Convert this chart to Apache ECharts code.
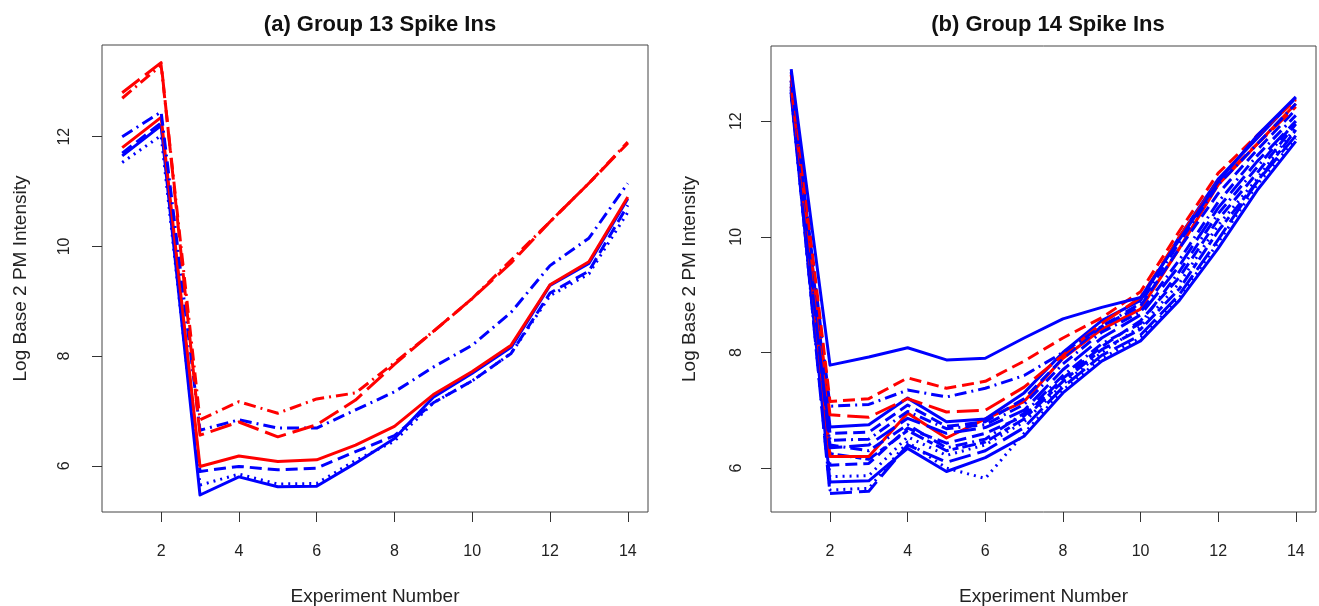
<!DOCTYPE html>
<html>
<head>
<meta charset="utf-8">
<script src="https://cdn.jsdelivr.net/npm/echarts@6/dist/echarts.min.js"></script>
<style>
html,body{margin:0;padding:0;background:#fff;}
#chart{width:1319px;height:606px;}
</style>
</head>
<body>
<div id="chart"></div>
<script>
// ---- data ----
var experiments = [1,2,3,4,5,6,7,8,9,10,11,12,13,14];
var xTicks = [2,4,6,8,10,12,14];
var yTicks = [6,8,10,12];
var titleA = "(a) Group 13 Spike Ins";
var titleB = "(b) Group 14 Spike Ins";
var xTitle = "Experiment Number";
var yTitle = "Log Base 2 PM Intensity";

// Group 13 (left panel)
var g13RedDashDot  = [12.70, 13.30, 6.84, 7.17, 6.96, 7.22, 7.33, 7.88, 8.45, 9.05, 9.75, 10.45, 11.15, 11.90];
var g13RedDash     = [12.80, 13.35, 6.56, 6.80, 6.53, 6.75, 7.20, 7.85, 8.45, 9.05, 9.70, 10.45, 11.15, 11.88];
var g13BlueDashDot = [12.00, 12.45, 6.65, 6.84, 6.69, 6.69, 7.02, 7.35, 7.80, 8.20, 8.80, 9.65, 10.15, 11.15];
var g13RedSolid    = [11.80, 12.35, 5.99, 6.18, 6.08, 6.11, 6.38, 6.72, 7.30, 7.72, 8.20, 9.30, 9.72, 10.90];
var g13BlueDash    = [11.70, 12.25, 5.90, 5.99, 5.93, 5.96, 6.26, 6.55, 7.15, 7.55, 8.05, 9.15, 9.55, 10.75];
var g13BlueDot     = [11.53, 12.02, 5.65, 5.85, 5.67, 5.68, 6.10, 6.45, 7.15, 7.55, 8.05, 9.10, 9.50, 10.62];
var g13BlueSolid   = [11.65, 12.20, 5.47, 5.80, 5.62, 5.63, 6.05, 6.50, 7.25, 7.69, 8.16, 9.29, 9.69, 10.87];

// Group 14 (right panel)
var g14BlueSolidTop  = [12.90, 7.78, 7.92, 8.08, 7.87, 7.90, 8.25, 8.58, 8.78, 8.95, 9.95, 10.95, 11.75, 12.42];
var g14RedDash       = [12.80, 7.15, 7.20, 7.56, 7.38, 7.50, 7.85, 8.25, 8.60, 9.05, 10.10, 11.10, 11.75, 12.37];
var g14BlueDashDotA  = [12.70, 7.07, 7.10, 7.35, 7.23, 7.38, 7.60, 8.00, 8.45, 8.85, 9.90, 10.90, 11.60, 12.30];
var g14RedLongDash   = [12.60, 6.92, 6.88, 7.20, 6.97, 7.00, 7.40, 7.95, 8.50, 8.95, 10.00, 10.95, 11.60, 12.25];
var g14BlueSolidB    = [12.85, 6.71, 6.75, 7.21, 6.80, 6.85, 7.30, 8.00, 8.55, 8.90, 10.00, 11.00, 11.70, 12.40];
var g14BlueDashB     = [12.70, 6.60, 6.62, 7.09, 6.72, 6.80, 7.20, 7.90, 8.45, 8.80, 9.80, 10.75, 11.50, 12.20];
var g14BlueDashDotC  = [12.60, 6.48, 6.50, 6.98, 6.68, 6.75, 7.10, 7.80, 8.35, 8.70, 9.60, 10.60, 11.40, 12.10];
var g14BlueLongDashD = [12.50, 6.35, 6.40, 6.86, 6.60, 6.70, 7.00, 7.70, 8.25, 8.65, 9.50, 10.50, 11.30, 12.00];
var g14BlueDashDotE  = [12.65, 6.40, 6.30, 6.75, 6.35, 6.50, 6.95, 7.60, 8.15, 8.50, 9.40, 10.40, 11.20, 12.00];
var g14RedSolid      = [12.70, 6.20, 6.20, 6.95, 6.52, 6.85, 7.15, 7.90, 8.40, 8.75, 9.80, 10.90, 11.60, 12.30];
var g14BlueTwoDashF  = [12.55, 6.25, 6.15, 6.65, 6.30, 6.45, 6.85, 7.50, 8.05, 8.40, 9.10, 10.10, 10.95, 11.85];
var g14BlueDashG     = [12.60, 6.05, 6.08, 6.69, 6.43, 6.60, 6.90, 7.55, 8.10, 8.55, 9.30, 10.30, 11.10, 11.95];
var g14BlueDotH      = [12.50, 5.85, 5.87, 6.54, 6.22, 6.40, 6.80, 7.45, 8.00, 8.45, 9.20, 10.20, 11.00, 11.90];
var g14BlueSolidI    = [12.45, 5.76, 5.78, 6.34, 5.94, 6.18, 6.55, 7.30, 7.85, 8.20, 8.90, 9.80, 10.80, 11.65];
var g14BlueLongDashJ = [12.55, 5.56, 5.60, 6.40, 6.10, 6.30, 6.70, 7.40, 7.95, 8.30, 9.00, 9.95, 10.95, 11.75];
var g14BlueDotK      = [12.50, 5.62, 5.65, 6.45, 6.00, 5.82, 6.60, 7.35, 7.90, 8.25, 8.95, 9.90, 10.90, 11.70];

// ---- styles (not data) ----
var RED = '#ff0000', BLUE = '#0000ff';
var DASH = {
  solid: 'solid',
  dash: [12, 6],
  dot: [2, 5],
  dashdot: [12, 5, 2, 5],
  longdash: [22, 7],
  twodash: [6, 4, 14, 4]
};

function mk(data, color, dash, gi) {
  return {
    type: 'line',
    xAxisIndex: gi, yAxisIndex: gi,
    data: experiments.map(function (x, i) { return [x, data[i]]; }),
    symbol: 'none',
    silent: true,
    lineStyle: { color: color, width: 3, type: dash, cap: 'butt', join: 'round' },
    z: 2
  };
}

var leftSeries = [
  mk(g13BlueSolid, BLUE, DASH.solid, 0),
  mk(g13BlueDot, BLUE, DASH.dot, 0),
  mk(g13BlueDash, BLUE, DASH.dash, 0),
  mk(g13RedSolid, RED, DASH.solid, 0),
  mk(g13BlueDashDot, BLUE, DASH.dashdot, 0),
  mk(g13RedDash, RED, DASH.longdash, 0),
  mk(g13RedDashDot, RED, DASH.dashdot, 0)
];
var rightSeries = [
  mk(g14BlueDotK, BLUE, DASH.dot, 1),
  mk(g14BlueLongDashJ, BLUE, DASH.longdash, 1),
  mk(g14BlueSolidI, BLUE, DASH.solid, 1),
  mk(g14BlueDotH, BLUE, DASH.dot, 1),
  mk(g14BlueDashG, BLUE, DASH.dash, 1),
  mk(g14BlueTwoDashF, BLUE, DASH.twodash, 1),
  mk(g14RedSolid, RED, DASH.solid, 1),
  mk(g14BlueDashDotE, BLUE, DASH.dashdot, 1),
  mk(g14BlueLongDashD, BLUE, DASH.longdash, 1),
  mk(g14BlueDashDotC, BLUE, DASH.dashdot, 1),
  mk(g14BlueDashB, BLUE, DASH.dash, 1),
  mk(g14BlueSolidB, BLUE, DASH.solid, 1),
  mk(g14RedLongDash, RED, DASH.longdash, 1),
  mk(g14BlueDashDotA, BLUE, DASH.dashdot, 1),
  mk(g14RedDash, RED, DASH.dash, 1),
  mk(g14BlueSolidTop, BLUE, DASH.solid, 1)
];

var FONT = '"Liberation Sans", Arial, Helvetica, sans-serif';
var AXC = '#333';

function xAxisCfg(gi) {
  return {
    type: 'value', gridIndex: gi, min: 0.48, max: 14.52,
    name: xTitle, nameLocation: 'middle', nameGap: 75,
    nameTextStyle: { fontFamily: FONT, fontSize: 19, color: '#222' },
    axisLine: { show: false },
    axisTick: { show: true, customValues: xTicks, length: 10, lineStyle: { color: AXC, width: 1 } },
    axisLabel: { customValues: xTicks, margin: 32, fontFamily: FONT, fontSize: 16, color: '#222' },
    splitLine: { show: false }
  };
}
function yAxisCfg(gi, mn, mx, gap, lm) {
  return {
    type: 'value', gridIndex: gi, min: mn, max: mx,
    name: yTitle, nameLocation: 'middle', nameGap: gap, nameRotate: 90,
    nameTextStyle: { fontFamily: FONT, fontSize: 19, color: '#222' },
    axisLine: { show: false },
    axisTick: { show: true, customValues: yTicks, length: 10, lineStyle: { color: AXC, width: 1 } },
    axisLabel: { customValues: yTicks, rotate: 90, margin: lm, fontFamily: FONT, fontSize: 16, color: '#222',
                 verticalAlign: 'middle', align: 'center' },
    splitLine: { show: false }
  };
}

var chart = echarts.init(document.getElementById('chart'), null, { renderer: 'canvas' });
chart.setOption({
  animation: false,
  backgroundColor: '#ffffff',
  title: [
    { text: titleA, left: 375, top: 9, textAlign: 'center',
      textStyle: { fontFamily: FONT, fontSize: 22, fontWeight: 'bold', color: '#111' } },
    { text: titleB, left: 1043, top: 9, textAlign: 'center',
      textStyle: { fontFamily: FONT, fontSize: 22, fontWeight: 'bold', color: '#111' } }
  ],
  grid: [
    { left: 102, width: 546, top: 45, height: 467, show: true, borderColor: '#444', borderWidth: 1,
      backgroundColor: 'transparent', containLabel: false, outerBoundsMode: 'none' },
    { left: 771, width: 545, top: 46, height: 466, show: true, borderColor: '#444', borderWidth: 1,
      backgroundColor: 'transparent', containLabel: false, outerBoundsMode: 'none' }
  ],
  xAxis: [xAxisCfg(0), xAxisCfg(1)],
  yAxis: [yAxisCfg(0, 5.16, 13.67, 72, 37), yAxisCfg(1, 5.24, 13.30, 72, 34)],
  series: leftSeries.concat(rightSeries)
});
</script>
</body>
</html>
